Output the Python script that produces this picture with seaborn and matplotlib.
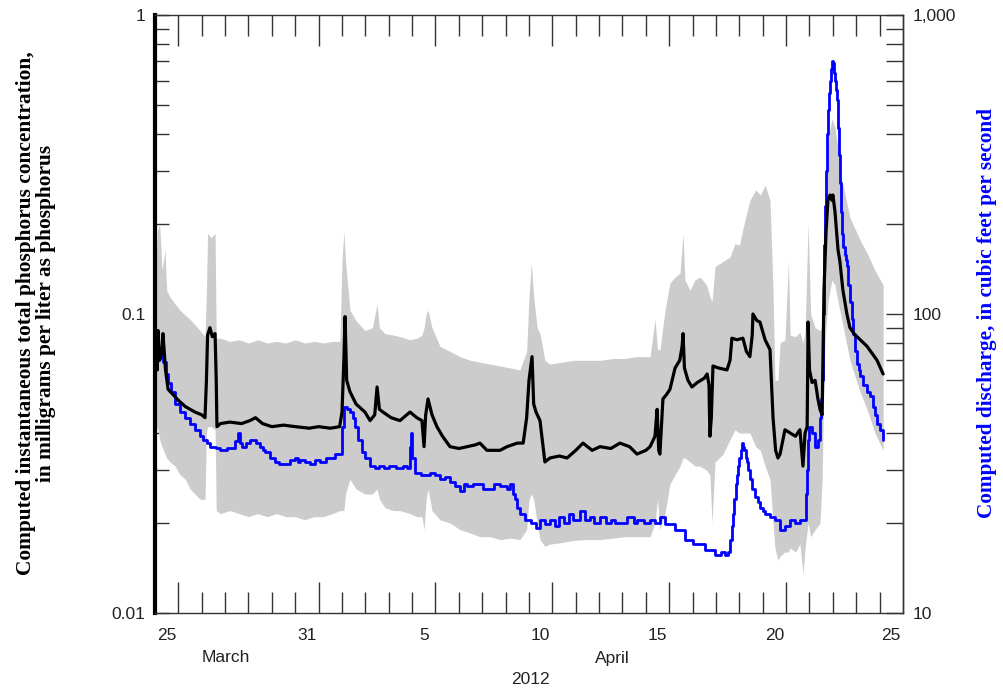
import numpy as np
import pandas as pd
import matplotlib
matplotlib.use("Agg")
import matplotlib.pyplot as plt
import seaborn as sns
from matplotlib.ticker import LogLocator, NullFormatter, NullLocator, FixedLocator

# ---------------- data (days since 2012-03-25 00:00) ----------------
tp_days = [0.0, 0.05, 0.1, 0.13, 0.2, 0.3, 0.34, 0.45, 0.56, 0.75, 0.98, 1.3, 1.71, 2.0, 2.14,
           2.2, 2.25, 2.35, 2.45, 2.57, 2.62, 2.65, 2.8, 3.2, 3.7, 4.06, 4.3, 4.6, 5.0, 5.5,
           6.0, 6.6, 7.0, 7.5, 7.9, 8.0, 8.08, 8.13, 8.2, 8.34, 8.6, 8.98, 9.2, 9.4, 9.5,
           9.6, 9.75, 10.1, 10.48, 10.91, 11.2, 11.42, 11.51, 11.58, 11.68, 11.85, 12.06, 12.3,
           12.62, 13.0, 13.35, 13.7, 13.9, 14.2, 14.76, 15.06, 15.5, 15.75, 15.9, 16.0, 16.13,
           16.2, 16.3, 16.47, 16.6, 16.68, 16.9, 17.3, 17.63, 18.0, 18.31, 18.7, 19.04, 19.5,
           19.89, 20.3, 20.62, 21.0, 21.18, 21.39, 21.48, 21.55, 21.6, 21.73, 21.9, 22.03,
           22.25, 22.45, 22.55, 22.59, 22.65, 22.8, 22.97, 23.2, 23.5, 23.62, 23.7, 23.74,
           23.8, 23.87, 24.1, 24.47, 24.6, 24.68, 24.9, 25.15, 25.3, 25.45, 25.55, 25.58,
           25.75, 25.88, 26.1, 26.31, 26.44, 26.55, 26.65, 26.74, 26.95, 27.17, 27.4, 27.59,
           27.72, 27.81, 27.9, 27.94, 28.0, 28.11, 28.24, 28.36, 28.45, 28.54, 28.62, 28.71,
           28.79, 28.88, 28.96, 29.0, 29.09, 29.22, 29.3, 29.43, 29.6, 29.73, 29.95, 30.03,
           30.46, 30.89, 31.15]
tp_conc = [0.075, 0.085, 0.065, 0.088, 0.07, 0.075, 0.086, 0.065, 0.056, 0.054, 0.0516, 0.049,
           0.047, 0.046, 0.045, 0.06, 0.085, 0.09, 0.084, 0.086, 0.06, 0.042, 0.043, 0.0435,
           0.043, 0.044, 0.045, 0.043, 0.042, 0.0425, 0.042, 0.0415, 0.042, 0.0415, 0.042,
           0.047, 0.07, 0.098, 0.06, 0.055, 0.05, 0.047, 0.044, 0.046, 0.057, 0.048, 0.047,
           0.045, 0.044, 0.047, 0.045, 0.044, 0.036, 0.046, 0.052, 0.046, 0.042, 0.039, 0.036,
           0.0355, 0.036, 0.0365, 0.037, 0.035, 0.035, 0.036, 0.037, 0.037, 0.045, 0.06,
           0.072, 0.05, 0.047, 0.044, 0.036, 0.032, 0.033, 0.0335, 0.033, 0.035, 0.037, 0.035,
           0.036, 0.0355, 0.037, 0.036, 0.034, 0.035, 0.036, 0.039, 0.048, 0.035, 0.034,
           0.052, 0.054, 0.056, 0.066, 0.07, 0.078, 0.086, 0.066, 0.06, 0.057, 0.059, 0.061,
           0.063, 0.058, 0.039, 0.045, 0.067, 0.066, 0.065, 0.07, 0.083, 0.082, 0.083, 0.075,
           0.072, 0.085, 0.1, 0.095, 0.094, 0.082, 0.076, 0.045, 0.035, 0.033, 0.034, 0.041,
           0.04, 0.039, 0.041, 0.031, 0.04, 0.042, 0.094, 0.065, 0.059, 0.06, 0.052, 0.048,
           0.046, 0.12, 0.19, 0.24, 0.25, 0.24, 0.25, 0.22, 0.164, 0.15, 0.12, 0.1, 0.09,
           0.085, 0.084, 0.078, 0.07, 0.063]

q_days = [0.0, 0.08, 0.13, 0.25, 0.34, 0.45, 0.56, 0.7, 0.86, 1.07, 1.28, 1.5, 1.71, 1.93, 2.05,
          2.22, 2.35, 2.6, 2.78, 3.1, 3.42, 3.55, 3.65, 3.72, 3.9, 4.06, 4.3, 4.49, 4.6, 4.71,
          4.92, 5.13, 5.3, 5.56, 5.78, 5.99, 6.1, 6.2, 6.4, 6.63, 6.85, 7.06, 7.3, 7.49, 7.7,
          7.91, 8.0, 8.08, 8.2, 8.34, 8.45, 8.56, 8.7, 8.86, 8.98, 9.2, 9.4, 9.6, 9.8, 10.0,
          10.3, 10.6, 10.8, 10.91, 10.95, 11.0, 11.12, 11.4, 11.76, 12.0, 12.19, 12.4, 12.62,
          12.83, 13.05, 13.2, 13.35, 13.6, 13.9, 14.05, 14.33, 14.5, 14.76, 15.06, 15.2, 15.3,
          15.4, 15.5, 15.61, 15.83, 16.1, 16.3, 16.47, 16.68, 16.9, 17.1, 17.3, 17.5, 17.7,
          17.9, 18.18, 18.4, 18.6, 18.8, 19.04, 19.3, 19.5, 19.7, 19.89, 20.2, 20.5, 20.62,
          20.9, 21.18, 21.4, 21.6, 21.82, 22.25, 22.67, 23.0, 23.53, 23.96, 24.2, 24.39, 24.5,
          24.6, 24.67, 24.73, 24.79, 24.85, 24.9, 24.94, 25.0, 25.05, 25.11, 25.16, 25.2,
          25.27, 25.33, 25.39, 25.45, 25.56, 25.67, 25.78, 25.88, 26.0, 26.1, 26.3, 26.52,
          26.74, 26.95, 27.17, 27.4, 27.59, 27.81, 27.85, 27.9, 27.94, 27.98, 28.11, 28.24,
          28.36, 28.45, 28.5, 28.54, 28.58, 28.62, 28.66, 28.71, 28.75, 28.8, 28.84, 28.88,
          28.92, 28.96, 29.0, 29.05, 29.09, 29.13, 29.17, 29.22, 29.26, 29.3, 29.35, 29.39,
          29.43, 29.5, 29.56, 29.6, 29.66, 29.73, 29.8, 29.86, 29.95, 30.03, 30.1, 30.16,
          30.3, 30.46, 30.59, 30.7, 30.8, 30.9, 31.02, 31.15]
q_cfs = [78, 85, 76, 72, 69, 63, 59, 55, 50, 47, 45, 43, 41, 39, 38, 37, 36, 35.5, 35, 35.5,
         37.5, 40, 37, 36, 37, 38, 37, 36, 35, 34.5, 33, 32, 31.5, 31.5, 32.5, 33, 32, 32.5,
         32, 31.5, 32.5, 32, 33, 33, 34, 34, 42, 49, 48, 47, 45, 42, 38, 34.5, 33, 31, 30.5,
         31, 30.5, 31, 30.5, 31, 30.5, 36, 40, 33, 29.5, 29, 29.5, 29, 28, 28.5, 27.5, 26.5,
         25.5, 27, 26.5, 27, 27, 26, 26, 27, 26.5, 26, 27, 25, 24, 22.5, 21.5, 20.5, 20, 19.2,
         20.5, 19.8, 20.5, 19.5, 21, 20, 21.5, 20.5, 22, 20.5, 21, 20, 21, 20, 20.5, 20, 20,
         21, 20, 20.5, 20, 20.5, 20, 21, 19.8, 19, 17.6, 17, 16.3, 15.6, 16, 15.6, 16,
         17.6, 19.5, 21.5, 24, 27, 29, 31, 33, 35, 37, 36, 35,
         33, 32, 30, 28, 26, 24.5, 23.5, 22.5, 22, 21.5, 21, 20.5,
         19, 19.5, 20.5, 20, 20.5, 20.5, 25, 30, 38, 42, 40, 36,
         38, 45, 52, 60, 100, 170, 230, 300, 400, 480, 550, 600,
         660, 700, 690, 640, 600, 560, 520, 420, 340, 275, 220, 185,
         168, 158, 152, 145, 125, 110, 96, 86, 75, 68, 65, 62,
         58, 55, 53, 49, 46, 43, 41, 38]

band_days = [0.0, 0.1, 0.2, 0.3, 0.43, 0.5, 0.64, 0.86, 1.07, 1.3, 1.5, 1.71, 1.93, 2.14, 2.2,
             2.25, 2.4, 2.57, 2.62, 2.8, 3.2, 3.6, 4.0, 4.4, 4.8, 5.2, 5.6, 6.0, 6.4, 6.8, 7.2,
             7.6, 7.91, 8.0, 8.08, 8.15, 8.34, 8.6, 8.98, 9.3, 9.5, 9.6, 9.84, 10.2, 10.48,
             10.91, 11.2, 11.42, 11.51, 11.6, 11.68, 11.85, 12.19, 12.62, 13.05, 13.5, 13.9,
             14.33, 14.76, 15.2, 15.61, 15.9, 16.0, 16.1, 16.2, 16.35, 16.47, 16.68, 16.9, 17.4,
             17.9, 18.4, 19.04, 19.6, 20.1, 20.6, 21.18, 21.39, 21.5, 21.6, 21.82, 22.03, 22.25,
             22.46, 22.59, 22.67, 22.89, 23.1, 23.32, 23.6, 23.74, 23.83, 23.96, 24.3, 24.6,
             24.81, 25.0, 25.2, 25.45, 25.7, 25.9, 26.1, 26.31, 26.44, 26.52, 26.65, 26.74,
             26.95, 27.1, 27.17, 27.4, 27.59, 27.72, 27.81, 27.94, 28.05, 28.24, 28.45, 28.54,
             28.6, 28.66, 28.79, 28.96, 29.09, 29.17, 29.39, 29.73, 30.16, 30.46, 30.8, 31.15]
band_upper = [0.12, 0.19, 0.2, 0.14, 0.164, 0.12, 0.114, 0.108, 0.103, 0.099, 0.096, 0.092,
              0.088, 0.084, 0.12, 0.186, 0.18, 0.186, 0.083, 0.083, 0.081, 0.082, 0.08, 0.082,
              0.08, 0.081, 0.08, 0.082, 0.08, 0.081, 0.08, 0.081, 0.081, 0.15, 0.19, 0.15,
              0.103, 0.095, 0.088, 0.09, 0.108, 0.09, 0.086, 0.085, 0.084, 0.082, 0.083, 0.085,
              0.09, 0.1, 0.103, 0.09, 0.078, 0.075, 0.072, 0.07, 0.069, 0.068, 0.067, 0.066,
              0.065, 0.075, 0.114, 0.148, 0.114, 0.09, 0.086, 0.07, 0.068, 0.069, 0.07, 0.07,
              0.07, 0.071, 0.071, 0.072, 0.072, 0.096, 0.076, 0.076, 0.103, 0.127, 0.133, 0.137,
              0.186, 0.13, 0.12, 0.13, 0.133, 0.125, 0.114, 0.11, 0.144, 0.15, 0.155, 0.172,
              0.17, 0.2, 0.24, 0.26, 0.25, 0.27, 0.24, 0.12, 0.06, 0.06, 0.08, 0.082, 0.15,
              0.085, 0.084, 0.087, 0.08, 0.087, 0.2, 0.1, 0.09, 0.088, 0.09, 0.2, 0.25, 0.38,
              0.45, 0.42, 0.38, 0.28, 0.21, 0.177, 0.16, 0.14, 0.125]
band_lower = [0.04, 0.042, 0.038, 0.036, 0.034, 0.033, 0.032, 0.031, 0.029, 0.028, 0.026,
              0.025, 0.024, 0.024, 0.04, 0.042, 0.042, 0.041, 0.022, 0.0215, 0.022, 0.0215,
              0.021, 0.0215, 0.021, 0.0215, 0.021, 0.021, 0.0205, 0.021, 0.021, 0.0215, 0.022,
              0.022, 0.022, 0.025, 0.028, 0.026, 0.025, 0.025, 0.026, 0.024, 0.0225, 0.022,
              0.022, 0.0215, 0.021, 0.021, 0.019, 0.024, 0.026, 0.022, 0.0205, 0.02, 0.019,
              0.0185, 0.018, 0.018, 0.0176, 0.0178, 0.0176, 0.019, 0.024, 0.025, 0.024, 0.02,
              0.0176, 0.0167, 0.017, 0.0172, 0.0175, 0.0176, 0.0176, 0.0178, 0.018, 0.018, 0.018,
              0.02, 0.024, 0.019, 0.0216, 0.027, 0.029, 0.031, 0.033, 0.033, 0.032, 0.031, 0.031,
              0.03, 0.029, 0.02, 0.032, 0.034, 0.038, 0.041, 0.04, 0.04, 0.04, 0.036, 0.035,
              0.031, 0.028, 0.02, 0.0165, 0.015, 0.0155, 0.016, 0.016, 0.0165, 0.016, 0.017,
              0.0135, 0.0165, 0.02, 0.018, 0.019, 0.02, 0.028, 0.05, 0.08, 0.11, 0.13, 0.125,
              0.115, 0.095, 0.07, 0.055, 0.048, 0.04, 0.035]

day_label_pos = [0.5, 6.5, 11.5, 16.5, 21.5, 26.5, 31.5]
day_labels = ["25", "31", "5", "10", "15", "20", "25"]
major_day_ticks = [1, 7, 12, 17, 22, 27]
month_labels = ["March", "April"]
month_label_pos = [3.05, 19.55]
year_label = "2012"
year_label_pos = 16.05
left_ticks = [0.01, 0.1, 1]
left_ticklabels = ["0.01", "0.1", "1"]
right_ticks = [10, 100, 1000]
right_ticklabels = ["10", "100", "1,000"]

# ---------------- figure ----------------
sns.set_style("white")
plt.rcParams["font.family"] = ["Liberation Sans", "DejaVu Sans"]

W, H = 1004, 691
fig = plt.figure(figsize=(W / 100, H / 100), dpi=100)
ax = fig.add_axes([155 / W, 1 - 613 / H, 748 / W, 598 / H])

# band
ax.fill_between(band_days, band_lower, band_upper, color="#cccccc", linewidth=0, zorder=1)
ax.set_yscale("log")
ax.set_ylim(0.01, 1)
ax.set_xlim(0, 32)

# discharge on right axis
ax2 = ax.twinx()
sns.lineplot(x=q_days, y=q_cfs, ax=ax2, color="#0000ff", linewidth=2.0,
             drawstyle="steps-post", estimator=None, sort=False, legend=False)
ax2.set_yscale("log")
ax2.set_ylim(10, 1000)

# concentration line on top
ax3 = ax.twinx()
sns.lineplot(x=tp_days, y=tp_conc, ax=ax3, color="black", linewidth=2.3,
             estimator=None, sort=False, legend=False)
ax3.set_yscale("log")
ax3.set_ylim(0.01, 1)
ax3.yaxis.set_major_locator(NullLocator())
ax3.yaxis.set_minor_locator(NullLocator())
ax3.set_ylabel("")
for s in ax3.spines.values():
    s.set_visible(False)

tick_col = "#333333"
# x ticks
ax.set_xticks(major_day_ticks)
ax.set_xticklabels([""] * len(major_day_ticks))
ax.xaxis.set_minor_locator(FixedLocator(list(range(1, 32))))
ax.tick_params(axis="x", which="major", direction="in", length=22, width=1,
               top=True, bottom=True, color=tick_col)
ax.tick_params(axis="x", which="minor", direction="in", length=15, width=1,
               top=True, bottom=True, color=tick_col)

xt = ax.get_xaxis_transform()
for p, lab in zip(day_label_pos, day_labels):
    ax.text(p, -22 / 598, lab, transform=xt, ha="center", va="center",
            fontsize=12.5, color="#222222")
for p, lab in zip(month_label_pos, month_labels):
    ax.text(p, -45 / 598, lab, transform=xt, ha="center", va="center",
            fontsize=12.5, color="#222222")
ax.text(year_label_pos, -67 / 598, year_label, transform=xt, ha="center", va="center",
        fontsize=12.5, color="#222222")

# left y ticks
ax.set_yticks(left_ticks)
ax.set_yticklabels(left_ticklabels)
ax.yaxis.set_minor_locator(LogLocator(base=10, subs=np.arange(2, 10)))
ax.yaxis.set_minor_formatter(NullFormatter())
ax.tick_params(axis="y", which="both", direction="in", length=10, width=1,
               left=True, right=False, color=tick_col, labelsize=12.5,
               labelcolor="#222222", pad=7)
ax.set_ylabel("")

# right y ticks
ax2.set_yticks(right_ticks)
ax2.set_yticklabels(right_ticklabels)
ax2.yaxis.set_minor_locator(LogLocator(base=10, subs=np.arange(2, 10)))
ax2.yaxis.set_minor_formatter(NullFormatter())
ax2.tick_params(axis="y", which="both", direction="in", length=12, width=1,
                left=False, right=True, color=tick_col, labelsize=12.5,
                labelcolor="#222222", pad=7)
ax2.set_ylabel("")

# spines
for name, s in ax.spines.items():
    s.set_color("#333333")
    s.set_linewidth(1.0)
ax.spines["left"].set_linewidth(3.0)
ax.spines["left"].set_color("black")
for name, s in ax2.spines.items():
    s.set_visible(name == "right")
    s.set_color("#333333")
    s.set_linewidth(1.0)

# axis titles
fig.text(36 / W, 1 - 313 / H,
         "Computed instantaneous total phosphorus concentration,\nin milligrams per liter as phosphorus",
         rotation=90, ha="center", va="center", fontsize=15.4, fontweight="bold",
         family=["Liberation Serif", "DejaVu Serif"], linespacing=1.05, color="black")
fig.text(987 / W, 1 - 313 / H, "Computed discharge, in cubic feet per second",
         rotation=90, ha="center", va="center", fontsize=15.3, fontweight="bold",
         family=["Liberation Serif", "DejaVu Serif"], color="#0000ff")

fig.savefig("out.png", dpi=100)
